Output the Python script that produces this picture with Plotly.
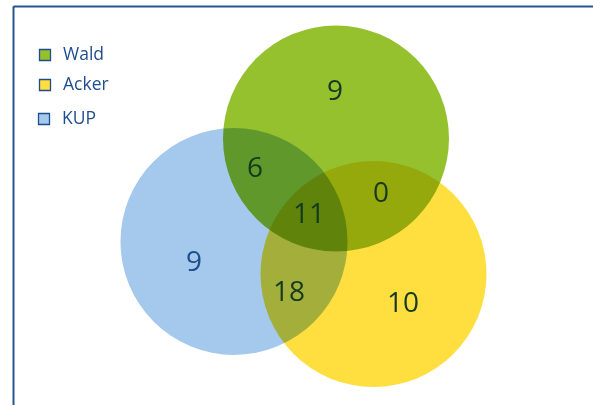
import plotly.graph_objects as go

# ---- data ----
set_names = ["Wald", "Acker", "KUP"]
set_colors = ["#95C12F", "#FFDE40", "#A4C9EC"]
region_labels = ["Wald", "Wald∩KUP", "Wald∩Acker", "Wald∩Acker∩KUP", "KUP", "Acker∩KUP", "Acker"]
region_counts = [9, 6, 0, 11, 9, 18, 10]

# ---- layout (pixel space of the 593x405 canvas) ----
W, H = 593, 405
circle_geom = {  # name: (cx, cy, r)
    "KUP": (234, 241.5, 113.5),
    "Acker": (373.5, 274, 113),
    "Wald": (336, 138.5, 113),
}
draw_order = ["KUP", "Acker", "Wald"]
label_pos = {
    "Wald": (335, 92.5),
    "Wald∩KUP": (255, 169.5),
    "Wald∩Acker": (381, 194.5),
    "Wald∩Acker∩KUP": (309, 216),
    "KUP": (194, 263.5),
    "Acker∩KUP": (289, 293.5),
    "Acker": (403, 304.5),
}
legend_pos = [(45, 55), (45, 85), (44, 119)]
text_dark = "#143A1E"
navy = "#1F4E8C"

fig = go.Figure()

shapes = []
for name in draw_order:
    cx, cy, r = circle_geom[name]
    col = set_colors[set_names.index(name)]
    shapes.append(dict(type="circle", xref="x", yref="y",
                       x0=cx - r, x1=cx + r, y0=cy - r, y1=cy + r,
                       fillcolor=col, line=dict(width=0), layer="below"))
# frame lines (left and top)
shapes.append(dict(type="line", xref="x", yref="y", x0=13.5, x1=13.5, y0=6.5, y1=H,
                   line=dict(color="#2A5592", width=2), layer="above"))
shapes.append(dict(type="line", xref="x", yref="y", x0=13.5, x1=W, y0=6.5, y1=6.5,
                   line=dict(color="#2A5592", width=2), layer="above"))

# region numbers
xs = [label_pos[k][0] for k in region_labels]
ys = [label_pos[k][1] for k in region_labels]
cols = [navy if k == "KUP" else text_dark for k in region_labels]
fig.add_trace(go.Scatter(
    x=xs, y=ys, mode="text", text=[str(v) for v in region_counts],
    textfont=dict(family="Open Sans", size=28, color=cols),
    hoverinfo="skip", showlegend=False))

# legend
fig.add_trace(go.Scatter(
    x=[p[0] for p in legend_pos], y=[p[1] for p in legend_pos], mode="markers",
    marker=dict(symbol="square", size=11, color=set_colors,
                line=dict(color=navy, width=1.3)),
    hoverinfo="skip", showlegend=False))
fig.add_trace(go.Scatter(
    x=[p[0] + 18 for p in legend_pos], y=[p[1] + 1 for p in legend_pos], mode="text",
    text=set_names, textposition="middle right",
    textfont=dict(family="Open Sans", size=17.5, color=navy),
    hoverinfo="skip", showlegend=False))

fig.update_layout(
    width=W, height=H, margin=dict(l=0, r=0, t=0, b=0),
    paper_bgcolor="white", plot_bgcolor="white",
    shapes=shapes,
    xaxis=dict(range=[0, W], visible=False, fixedrange=True),
    yaxis=dict(range=[H, 0], visible=False, fixedrange=True),
)

post = """
document.body.style.margin = '0';
var gd = document.getElementById('{plot_id}');
function blend(){
  gd.querySelectorAll('.shapelayer path').forEach(function(p){
    var el = p;
    while (el && !(el.classList && el.classList.contains('shapelayer'))) {
      el.removeAttribute('clip-path');
      if (el.style) { el.style.removeProperty('clip-path'); el.style.mixBlendMode = 'multiply'; }
      el = el.parentNode;
    }
  });
}
blend();
gd.on('plotly_afterplot', blend);
"""
fig.write_html("out.html", post_script=post, config={"displayModeBar": False})
